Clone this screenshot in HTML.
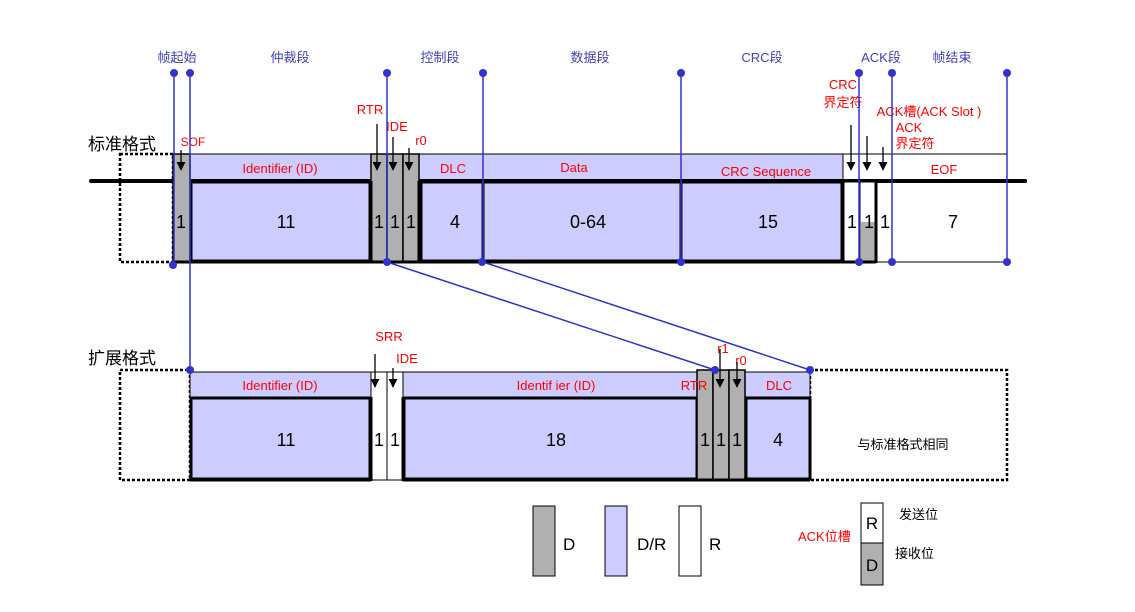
<!DOCTYPE html>
<html><head><meta charset="utf-8"><style>
html,body{margin:0;padding:0;background:#fff;}
svg{display:block;}
text{font-family:"Liberation Sans","Noto Sans CJK SC",sans-serif;}
</style></head><body>
<svg width="1135" height="612" viewBox="0 0 1135 612" xmlns="http://www.w3.org/2000/svg">
<defs>
<marker id="ar" viewBox="0 0 10 10" refX="9" refY="5" markerWidth="9" markerHeight="9" orient="auto" markerUnits="userSpaceOnUse"><path d="M0,0 L10,5 L0,10 z" fill="#000"/></marker>
</defs>
<!-- top labels -->
<g fill="#4040c0" font-size="13" text-anchor="middle">
<text x="177" y="62">帧起始</text>
<text x="290" y="62">仲裁段</text>
<text x="440" y="62">控制段</text>
<text x="590" y="62">数据段</text>
<text x="762" y="62">CRC段</text>
<text x="881" y="62">ACK段</text>
<text x="952" y="62">帧结束</text>
</g>
<text x="88" y="150" font-size="17" fill="#000">标准格式</text>
<text x="88" y="364" font-size="17" fill="#000">扩展格式</text>

<!-- STANDARD FRAME -->
<rect x="120" y="154" width="53" height="108" fill="none" stroke="#000" stroke-width="2.5" stroke-dasharray="3,2"/>
<rect x="173" y="154" width="834" height="27" fill="#fff" stroke="#000" stroke-width="1"/>
<rect x="190" y="154" width="181" height="27" fill="#ccccff" stroke="#000" stroke-width="1"/>
<rect x="419" y="154" width="424" height="27" fill="#ccccff" stroke="#000" stroke-width="1"/>
<line x1="91" y1="181" x2="1025" y2="181" stroke="#000" stroke-width="4" stroke-linecap="round"/>
<rect x="191" y="182" width="179" height="79" fill="#ccccff" stroke="#000" stroke-width="3"/>
<rect x="421" y="182" width="62" height="79" fill="#ccccff" stroke="#000" stroke-width="3"/>
<rect x="483" y="182" width="198" height="79" fill="#ccccff" stroke="#000" stroke-width="3"/>
<rect x="681" y="182" width="161" height="79" fill="#ccccff" stroke="#000" stroke-width="3"/>
<rect x="843" y="182" width="16" height="80" fill="#fff" stroke="#000" stroke-width="1"/>
<rect x="860" y="182" width="16" height="80" fill="#fff" stroke="#000" stroke-width="1"/>
<rect x="861" y="222" width="14" height="40" fill="#b0b0b0"/>
<line x1="843" y1="182" x2="843" y2="263" stroke="#000" stroke-width="3"/>
<line x1="876" y1="182" x2="876" y2="263" stroke="#000" stroke-width="3"/>
<line x1="843" y1="262" x2="876" y2="262" stroke="#000" stroke-width="3"/>
<line x1="860" y1="182" x2="860" y2="262" stroke="#000" stroke-width="1"/>
<rect x="876" y="182" width="131" height="80" fill="none" stroke="#000" stroke-width="1"/>
<line x1="876" y1="181" x2="1025" y2="181" stroke="#000" stroke-width="4" stroke-linecap="round"/>
<rect x="173" y="154" width="17" height="108" fill="#b0b0b0" stroke="#000" stroke-width="1.5"/>
<rect x="371" y="154" width="16" height="108" fill="#b0b0b0" stroke="#000" stroke-width="1.5"/>
<rect x="387" y="154" width="16" height="108" fill="#b0b0b0" stroke="#000" stroke-width="1.5"/>
<rect x="403" y="154" width="16" height="108" fill="#b0b0b0" stroke="#000" stroke-width="1.5"/>
<line x1="173" y1="262" x2="843" y2="262" stroke="#000" stroke-width="3"/>
<line x1="371" y1="181" x2="371" y2="263" stroke="#000" stroke-width="3"/>
<line x1="419" y1="181" x2="419" y2="263" stroke="#000" stroke-width="3"/>
<g fill="#ff0000" font-size="13" text-anchor="middle">
<text x="280" y="173">Identifier (ID)</text>
<text x="453" y="173">DLC</text>
<text x="574" y="172">Data</text>
<text x="766" y="176">CRC Sequence</text>
<text x="944" y="174">EOF</text>
<text x="193" y="146" font-size="12">SOF</text>
<text x="370" y="114">RTR</text>
<text x="397" y="131">IDE</text>
<text x="421" y="145">r0</text>
<text x="843" y="89">CRC</text>
<text x="843" y="107">界定符</text>
<text x="929" y="116">ACK槽(ACK Slot )</text>
<text x="909" y="132">ACK</text>
<text x="915" y="148">界定符</text>
</g>
<g stroke="#000" stroke-width="1.3" marker-end="url(#ar)">
<line x1="181" y1="150" x2="181" y2="170"/>
<line x1="377" y1="124" x2="377" y2="170"/>
<line x1="393" y1="137" x2="393" y2="170"/>
<line x1="409" y1="148" x2="409" y2="170"/>
<line x1="851" y1="125" x2="851" y2="170"/>
<line x1="867" y1="136" x2="867" y2="170"/>
<line x1="883" y1="147" x2="883" y2="170"/>
</g>
<g fill="#000" font-size="18" text-anchor="middle">
<text x="181" y="228">1</text>
<text x="286" y="228">11</text>
<text x="379" y="228">1</text>
<text x="395" y="228">1</text>
<text x="411" y="228">1</text>
<text x="455" y="228">4</text>
<text x="588" y="228">0-64</text>
<text x="768" y="228">15</text>
<text x="852" y="228">1</text>
<text x="869" y="228">1</text>
<text x="885" y="228">1</text>
<text x="953" y="228">7</text>
</g>

<!-- EXTENDED FRAME -->
<rect x="120" y="370" width="70" height="110" fill="none" stroke="#000" stroke-width="2.5" stroke-dasharray="3,2"/>
<rect x="810" y="370" width="197" height="110" fill="none" stroke="#000" stroke-width="2.5" stroke-dasharray="3,2"/>
<rect x="190" y="372" width="620" height="25" fill="#ccccff" stroke="#000" stroke-width="1"/>
<rect x="371" y="372" width="32" height="108" fill="#fff" stroke="#000" stroke-width="1"/>
<line x1="387" y1="372" x2="387" y2="480" stroke="#000" stroke-width="1"/>
<rect x="191" y="398" width="179" height="81" fill="#ccccff" stroke="#000" stroke-width="3"/>
<rect x="404" y="398" width="293" height="81" fill="#ccccff" stroke="#000" stroke-width="3"/>
<rect x="746" y="398" width="64" height="81" fill="#ccccff" stroke="#000" stroke-width="3"/>
<line x1="371" y1="397" x2="371" y2="481" stroke="#000" stroke-width="3"/>
<line x1="403" y1="397" x2="403" y2="481" stroke="#000" stroke-width="3"/>
<rect x="697" y="370" width="16" height="110" fill="#b0b0b0" stroke="#000" stroke-width="1.5"/>
<rect x="713" y="370" width="16" height="110" fill="#b0b0b0" stroke="#000" stroke-width="1.5"/>
<rect x="729" y="370" width="16" height="110" fill="#b0b0b0" stroke="#000" stroke-width="1.5"/>
<line x1="190" y1="480" x2="371" y2="480" stroke="#000" stroke-width="3"/>
<line x1="403" y1="480" x2="810" y2="480" stroke="#000" stroke-width="3"/>
<g fill="#ff0000" font-size="13" text-anchor="middle">
<text x="280" y="390">Identifier (ID)</text>
<text x="556" y="390">Identif ier (ID)</text>
<text x="694" y="390">RTR</text>
<text x="779" y="390">DLC</text>
<text x="389" y="341">SRR</text>
<text x="407" y="363">IDE</text>
<text x="723" y="353">r1</text>
<text x="741" y="365">r0</text>
</g>
<g stroke="#000" stroke-width="1.3" marker-end="url(#ar)">
<line x1="375" y1="354" x2="375" y2="387"/>
<line x1="393" y1="368" x2="393" y2="387"/>
<line x1="720" y1="349" x2="720" y2="387"/>
<line x1="737" y1="362" x2="737" y2="387"/>
</g>
<g fill="#000" font-size="18" text-anchor="middle">
<text x="286" y="446">11</text>
<text x="379" y="446">1</text>
<text x="395" y="446">1</text>
<text x="556" y="446">18</text>
<text x="705" y="446">1</text>
<text x="721" y="446">1</text>
<text x="737" y="446">1</text>
<text x="778" y="446">4</text>
</g>
<text x="903" y="449" font-size="13" fill="#000" text-anchor="middle">与标准格式相同</text>

<g stroke="#3333cc" stroke-width="1.5">
<line x1="174" y1="73" x2="174" y2="265"/>
<line x1="190" y1="73" x2="190" y2="370"/>
<line x1="387" y1="73" x2="387" y2="262"/>
<line x1="483" y1="73" x2="483" y2="262"/>
<line x1="681" y1="73" x2="681" y2="262"/>
<line x1="859" y1="73" x2="859" y2="262"/>
<line x1="892" y1="73" x2="892" y2="262"/>
<line x1="1007" y1="73" x2="1007" y2="262"/>
<line x1="387" y1="262" x2="715" y2="370"/>
<line x1="483" y1="262" x2="810" y2="370"/>
</g>
<g fill="#3333cc">
<circle cx="174" cy="73" r="4"/><circle cx="190" cy="73" r="4"/><circle cx="387" cy="73" r="4"/>
<circle cx="483" cy="73" r="4"/><circle cx="681" cy="73" r="4"/><circle cx="859" cy="73" r="4"/>
<circle cx="892" cy="73" r="4"/><circle cx="1007" cy="73" r="4"/>
<circle cx="173" cy="265" r="4"/><circle cx="387" cy="262" r="4"/><circle cx="482" cy="262" r="4"/>
<circle cx="681" cy="262" r="4"/><circle cx="859" cy="262" r="4"/><circle cx="892" cy="262" r="4"/>
<circle cx="1007" cy="262" r="4"/>
<circle cx="190" cy="370" r="4"/><circle cx="715" cy="370" r="4"/><circle cx="810" cy="370" r="4"/>
</g>

<rect x="533" y="506" width="22" height="70" fill="#b0b0b0" stroke="#000" stroke-width="1"/>
<text x="563" y="550" font-size="17">D</text>
<rect x="605" y="506" width="22" height="70" fill="#ccccff" stroke="#000" stroke-width="1"/>
<text x="637" y="550" font-size="17">D/R</text>
<rect x="679" y="506" width="22" height="70" fill="#fff" stroke="#000" stroke-width="1"/>
<text x="709" y="550" font-size="17">R</text>
<rect x="861" y="503" width="22" height="40" fill="#fff" stroke="#000" stroke-width="1"/>
<rect x="861" y="543" width="22" height="42" fill="#b0b0b0" stroke="#000" stroke-width="1"/>
<text x="872" y="529" font-size="17" text-anchor="middle">R</text>
<text x="872" y="571" font-size="17" text-anchor="middle">D</text>
<text x="798" y="541" font-size="13" fill="#ff0000">ACK位槽</text>
<text x="899" y="519" font-size="13">发送位</text>
<text x="895" y="558" font-size="13">接收位</text>
</svg>
</body></html>
